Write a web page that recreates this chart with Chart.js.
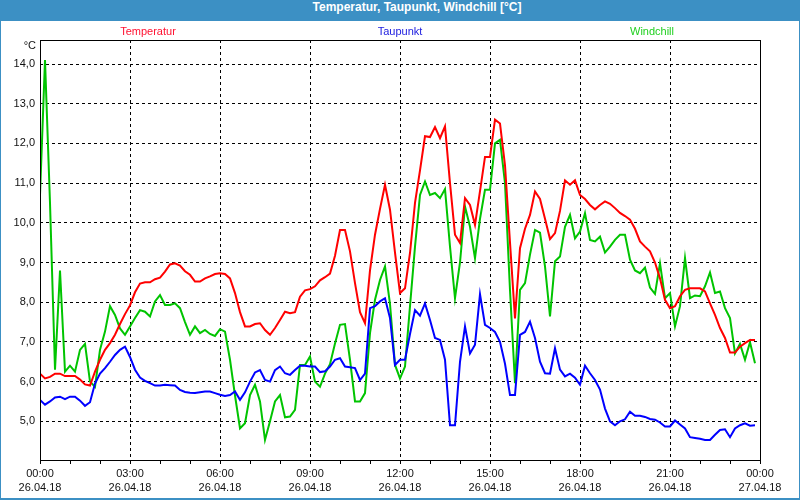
<!DOCTYPE html>
<html>
<head>
<meta charset="utf-8">
<script src="https://cdn.jsdelivr.net/npm/chart.js@4"></script>
<style>
  body { margin: 0; background: #fff; }
  #wrap { position: relative; width: 800px; height: 500px; background: #3c90c4; }
  #title { position: absolute; left: 0; top: 0; width: 766px; padding-left: 34px; height: 21px; line-height: 20px; text-align: center; color: #fff; font: bold 12px 'Liberation Sans', Arial, sans-serif; }
  #inner { position: absolute; left: 1px; top: 21px; width: 798px; height: 477px; background: #fff; }
</style>
</head>
<body>
<div id="wrap">
  <div id="title">Temperatur, Taupunkt, Windchill [°C]</div>
  <div id="inner"><canvas id="chart" width="798" height="477"></canvas></div>
</div>
<script>
// 10-minute readings, 26.04.18 00:00 .. 23:50
const stepMinutes = 10;
const timeTicks = ['00:00', '03:00', '06:00', '09:00', '12:00', '15:00', '18:00', '21:00', '00:00'];
const dateTicks = ['26.04.18', '26.04.18', '26.04.18', '26.04.18', '26.04.18', '26.04.18', '26.04.18', '26.04.18', '27.04.18'];

const temperatur = [
  6.20, 6.08, 6.12, 6.20, 6.20, 6.14, 6.14, 6.14, 6.05, 5.93,
  5.90, 6.25, 6.55, 6.80, 6.97, 7.18, 7.45, 7.70, 7.92, 8.25,
  8.47, 8.50, 8.50, 8.58, 8.62, 8.77, 8.95, 8.98, 8.92, 8.78,
  8.69, 8.52, 8.52, 8.60, 8.65, 8.71, 8.73, 8.71, 8.60, 8.23,
  7.75, 7.39, 7.39, 7.45, 7.47, 7.30, 7.18, 7.35, 7.55, 7.76,
  7.72, 7.75, 8.14, 8.30, 8.33, 8.40, 8.55, 8.63, 8.72, 9.17,
  9.82, 9.82, 9.28, 8.48, 7.75, 7.47, 8.80, 9.70, 10.35, 10.96,
  10.33, 9.25, 8.23, 8.35, 9.24, 10.50, 11.32, 12.18, 12.16, 12.41,
  12.13, 12.43, 11.00, 9.70, 9.49, 10.62, 10.45, 9.95, 10.80, 11.66,
  11.66, 12.60, 12.50, 11.45, 9.50, 7.59, 9.36, 9.85, 10.20, 10.79,
  10.60, 10.10, 9.59, 9.74, 10.30, 11.07, 10.96, 11.07, 10.70, 10.60,
  10.45, 10.34, 10.45, 10.54, 10.48, 10.37, 10.25, 10.17, 10.08, 9.85,
  9.53, 9.40, 9.28, 9.00, 8.60, 8.06, 7.85, 7.90, 8.15, 8.31,
  8.35, 8.35, 8.35, 8.27, 7.97, 7.68, 7.35, 7.10, 6.73, 6.73,
  6.88, 6.97, 7.05, 7.05
];
const taupunkt = [
  5.54, 5.42, 5.50, 5.60, 5.62, 5.56, 5.62, 5.62, 5.52, 5.39,
  5.48, 5.95, 6.20, 6.34, 6.50, 6.67, 6.80, 6.88, 6.62, 6.30,
  6.10, 6.02, 5.96, 5.90, 5.90, 5.92, 5.91, 5.90, 5.79, 5.74,
  5.72, 5.71, 5.73, 5.75, 5.75, 5.71, 5.67, 5.64, 5.66, 5.75,
  5.54, 5.73, 6.00, 6.23, 6.29, 6.04, 6.00, 6.29, 6.38, 6.21,
  6.17, 6.29, 6.40, 6.40, 6.38, 6.38, 6.24, 6.26, 6.38, 6.55,
  6.59, 6.38, 6.36, 6.34, 6.04, 6.20, 7.85, 7.90, 8.02, 8.10,
  7.60, 6.42, 6.55, 6.55, 7.20, 7.80, 7.66, 7.97, 7.55, 7.10,
  7.05, 6.55, 4.90, 4.90, 6.50, 7.39, 6.71, 6.93, 8.20, 7.43,
  7.35, 7.25, 7.00, 6.45, 5.66, 5.66, 7.18, 7.25, 7.51, 7.10,
  6.50, 6.21, 6.20, 6.84, 6.30, 6.13, 6.20, 6.10, 5.92, 6.40,
  6.21, 6.04, 5.80, 5.32, 5.00, 4.90, 5.00, 5.05, 5.24, 5.14,
  5.14, 5.11, 5.06, 5.04, 4.97, 4.87, 4.87, 5.02, 4.92, 4.82,
  4.60, 4.58, 4.56, 4.53, 4.53, 4.66, 4.78, 4.80, 4.60, 4.82,
  4.90, 4.95, 4.89, 4.90
];
const windchill = [
  10.70, 14.10, 10.50, 6.30, 8.80, 6.25, 6.40, 6.25, 6.80, 6.95,
  6.00, 5.87, 6.80, 7.26, 7.90, 7.68, 7.34, 7.18, 7.39, 7.60,
  7.80, 7.76, 7.64, 8.02, 8.18, 7.93, 7.93, 7.97, 7.85, 7.50,
  7.18, 7.39, 7.22, 7.30, 7.20, 7.15, 7.32, 7.26, 6.55, 5.65,
  4.82, 4.95, 5.66, 5.92, 5.50, 4.53, 5.00, 5.50, 5.66, 5.10,
  5.12, 5.29, 6.42, 6.42, 6.63, 6.00, 5.87, 6.20, 6.44, 6.96,
  7.43, 7.45, 6.55, 5.50, 5.50, 5.71, 7.22, 8.06, 8.56, 8.90,
  7.95, 6.42, 6.08, 6.38, 7.90, 9.40, 10.70, 11.04, 10.70, 10.75,
  10.62, 10.85, 9.40, 8.10, 9.00, 10.41, 9.90, 9.11, 10.10, 10.83,
  10.83, 12.00, 12.09, 11.00, 8.30, 5.96, 8.31, 8.48, 9.20, 9.82,
  9.75, 8.90, 7.64, 9.03, 9.15, 9.90, 10.20, 9.61, 9.78, 10.24,
  9.57, 9.53, 9.65, 9.25, 9.40, 9.57, 9.70, 9.70, 9.07, 8.80,
  8.73, 8.87, 8.37, 8.21, 8.98, 8.10, 8.23, 7.39, 7.90, 9.11,
  8.10, 8.17, 8.15, 8.40, 8.75, 8.23, 8.27, 7.85, 7.60, 6.71,
  6.95, 6.55, 6.99, 6.46
];

const toPoints = arr => arr.map((v, i) => ({ x: i * stepMinutes / 60, y: v }));
const font = { family: "'Liberation Sans', Arial, sans-serif", size: 11 };

const extras = {
  id: 'extras',
  afterDraw(chart) {
    const { ctx, chartArea: a } = chart;
    ctx.save();
    // plot frame, on the same pixels as the outer grid lines
    ctx.strokeStyle = '#000';
    ctx.lineWidth = 1;
    ctx.setLineDash([]);
    ctx.strokeRect(Math.round(a.left) + 0.5, Math.round(a.top) + 0.5, Math.round(a.right - a.left), Math.round(a.bottom - a.top));
    // legend texts
    ctx.font = "11px 'Liberation Sans', Arial, sans-serif";
    ctx.textAlign = 'center';
    ctx.textBaseline = 'middle';
    const cx = (a.left + a.right) / 2, gap = (a.right - a.left) * 0.35;
    chart.data.datasets.forEach((ds, i) => {
      ctx.fillStyle = ds.legendColor;
      ctx.fillText(ds.label, cx + (i - 1) * gap, 11);
    });
    // unit
    ctx.fillStyle = '#111';
    ctx.textAlign = 'right';
    ctx.fillText('°C', a.left - 4, a.top + 6);
    ctx.restore();
  }
};

new Chart(document.getElementById('chart'), {
  type: 'line',
  data: {
    datasets: [
      { label: 'Temperatur', data: toPoints(temperatur), borderColor: '#ff0000', legendColor: '#ff1030' },
      { label: 'Taupunkt', data: toPoints(taupunkt), borderColor: '#0000ff', legendColor: '#2020e0' },
      { label: 'Windchill', data: toPoints(windchill), borderColor: '#00c400', legendColor: '#20d020' },
    ].map(d => ({ ...d, borderWidth: 2, pointRadius: 0, tension: 0, fill: false })),
  },
  options: {
    responsive: false,
    animation: false,
    events: [],
    layout: { padding: { top: 19, right: 39, left: 0, bottom: 0 } },
    plugins: { legend: { display: false }, title: { display: false }, tooltip: { enabled: false } },
    scales: {
      x: {
        type: 'linear', min: 0, max: 24,
        afterFit: s => { s.height = 38; },
        border: { display: false, dash: [3, 3] },
        grid: {
          color: c => (c.tick && c.tick.value % 3 === 0 && c.tick.value < 24 ? '#000' : 'rgba(0,0,0,0)'),
          tickColor: '#000', tickLength: 4, lineWidth: 1,
        },
        ticks: {
          stepSize: 1, autoSkip: false, maxRotation: 0, padding: 2, color: '#111',
          font: { ...font, lineHeight: 1.36 },
          callback: v => (v % 3 === 0 ? [timeTicks[v / 3], dateTicks[v / 3]] : ''),
        },
      },
      y: {
        min: 4.025, max: 14.605,
        afterFit: s => { s.width = 39; },
        border: { display: false, dash: [3, 3] },
        grid: { color: '#000', drawTicks: false, lineWidth: 1 },
        ticks: {
          stepSize: 1, includeBounds: false, padding: 5, color: '#111', font,
          callback: v => v.toFixed(1).replace('.', ','),
        },
      },
    },
  },
  plugins: [extras],
});
</script>
</body>
</html>
